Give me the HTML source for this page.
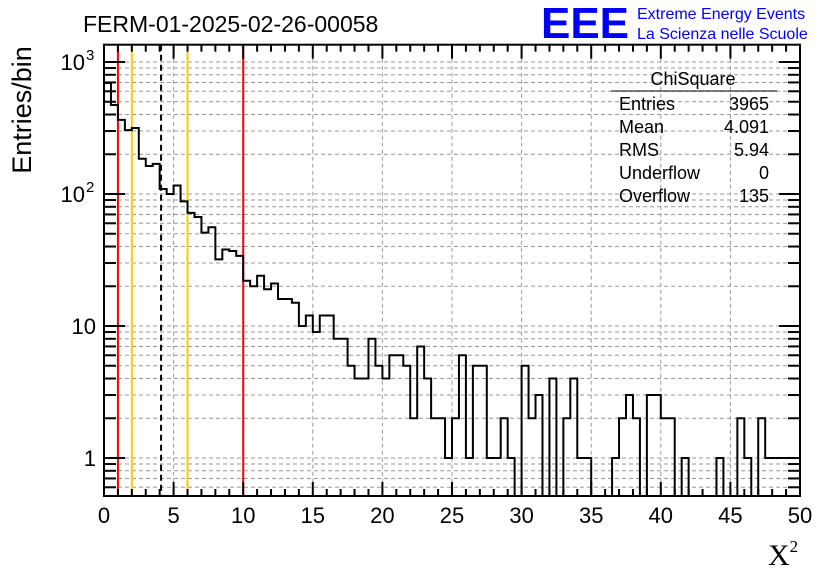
<!DOCTYPE html>
<html><head><meta charset="utf-8"><style>
body{margin:0;background:#fff;}
svg text{font-family:"Liberation Sans",sans-serif;}
</style></head><body>
<svg id="chart" width="836" height="572" xmlns="http://www.w3.org/2000/svg">
<rect width="836" height="572" fill="#fff"/>
<g id="grid"></g>
<g id="marks"></g>
<g id="axes"></g>
<text x="83" y="32" font-size="23">FERM-01-2025-02-26-00058</text>
<text x="541" y="38" font-size="44" font-weight="bold" fill="#0000ff" textLength="88" lengthAdjust="spacingAndGlyphs">EEE</text>
<text x="637" y="19" font-size="16" fill="#0000ff">Extreme Energy Events</text>
<text x="637" y="39" font-size="16" fill="#0000ff">La Scienza nelle Scuole</text>
<g font-size="18">
<text x="693" y="85" text-anchor="middle">ChiSquare</text>
<line x1="611" y1="91" x2="777" y2="91" stroke="#000" stroke-width="1"/>
<text x="619" y="110">Entries</text><text x="769" y="110" text-anchor="end">3965</text>
<text x="619" y="133">Mean</text><text x="769" y="133" text-anchor="end">4.091</text>
<text x="619" y="156">RMS</text><text x="769" y="156" text-anchor="end">5.94</text>
<text x="619" y="179">Underflow</text><text x="769" y="179" text-anchor="end">0</text>
<text x="619" y="202">Overflow</text><text x="769" y="202" text-anchor="end">135</text>
</g>
<text transform="translate(31,110) rotate(-90)" font-size="27" text-anchor="middle">Entries/bin</text>
<text x="768" y="565" font-size="30" style="font-family:'Liberation Serif',serif">X<tspan font-size="17" dy="-13">2</tspan></text>
</svg>
<script>
const binWidth = 0.5;
const counts = [693,472,364,305,316,185,163,169,109,100,116,88,72,67,51,56,32,38,37,34,22,20,24,19,21,16,16,15,10,12,9,12,12,8,8,5,4,4,8,5,4,6,6,5,2,7,4,2,2,1,2,6,1,5,5,1,1,2,1,0,5,2,3,0,4,0,2,4,1,1,0,0,0,1,2,3,2,0,3,3,2,2,0,1,0,0,0,0,1,0,0,2,1,0,2,1,1,1,1,1];
const xTicks = [0,5,10,15,20,25,30,35,40,45,50];
const yMajor = [1,10,100,1000];
const yMajorBase = ["1","10","10","10"];
const yMajorExp = ["","","2","3"];
const redLines = [1,10];
const yellowLines = [2,6];
const meanLine = [4.1];

const X0=104,X1=800,Y0=44.7,Y1=496;
const xs=v=>X0+(v/50)*(X1-X0);
const ys=v=>458-132*Math.log10(v);
const NS="http://www.w3.org/2000/svg";
function mk(parent,tag,attrs){const e=document.createElementNS(NS,tag);for(const k in attrs)e.setAttribute(k,attrs[k]);parent.appendChild(e);return e;}
const grid=document.getElementById('grid'),marks=document.getElementById('marks'),axes=document.getElementById('axes');
xTicks.forEach(t=>{if(t>0&&t<50){const l=mk(grid,'line',{x1:xs(t),x2:xs(t),y1:Y0,y2:Y1,stroke:'#999','stroke-dasharray':'4,3'});

}});
const yMinor=[];
[1,10,100,1000].forEach(d=>{for(let m=1;m<10;m++){const v=d*m;const y=ys(v);if(y>Y0&&y<Y1)yMinor.push(v);}});
[0.6,0.7,0.8,0.9].forEach(v=>{if(ys(v)<Y1)yMinor.push(v);});
yMinor.forEach(v=>{const l=mk(grid,'line',{x1:X0,x2:X1,y1:ys(v),y2:ys(v),stroke:'#999','stroke-dasharray':'4,3'});

});
redLines.forEach(v=>{const l=mk(marks,'line',{x1:xs(v),x2:xs(v),y1:Y0,y2:Y1,stroke:'#ff0000','stroke-width':2});

});
yellowLines.forEach(v=>{const l=mk(marks,'line',{x1:xs(v),x2:xs(v),y1:Y0,y2:Y1,stroke:'#ffcc00','stroke-width':2});

});
meanLine.forEach(v=>{const l=mk(marks,'line',{x1:xs(v),x2:xs(v),y1:Y0,y2:Y1,stroke:'#000','stroke-width':2,'stroke-dasharray':'6,4'});

});
let d='';
counts.forEach((c,i)=>{const xa=xs(i*binWidth),xb=xs((i+1)*binWidth);const y=c>0?Math.max(Y0,ys(c)):Y1;
d+=(i===0?'M'+xa+','+y:'L'+xa+','+y)+'L'+xb+','+y;});
const h=mk(marks,'path',{d:d,fill:'none',stroke:'#000','stroke-width':2});


const f=mk(axes,'rect',{x:X0,y:Y0,width:X1-X0,height:Y1-Y0,fill:'none',stroke:'#000','stroke-width':2});


for(let t=0;t<=50;t++){const big=t%5===0;const L=big?14:7;
mk(axes,'line',{x1:xs(t),x2:xs(t),y1:Y1,y2:Y1-L,stroke:'#000','stroke-width':2});
mk(axes,'line',{x1:xs(t),x2:xs(t),y1:Y0,y2:Y0+L,stroke:'#000','stroke-width':2});}
xTicks.forEach(t=>{const tx=mk(axes,'text',{x:xs(t),y:523,'font-size':22,'text-anchor':'middle'});tx.textContent=t;

});
yMinor.concat(yMajor).forEach(v=>{const big=yMajor.includes(v);const L=big?21:12;const y=ys(v);if(y<Y0||y>Y1)return;
mk(axes,'line',{x1:X0,x2:X0+L,y1:y,y2:y,stroke:'#000','stroke-width':2});
mk(axes,'line',{x1:X1,x2:X1-L,y1:y,y2:y,stroke:'#000','stroke-width':2});});
yMajor.forEach((v,i)=>{const hasExp=yMajorExp[i]!=='';
const tx=mk(axes,'text',{x:hasExp?85:96,y:ys(v)+8,'font-size':22,'text-anchor':'end'});tx.textContent=yMajorBase[i];


if(hasExp){const ex=mk(axes,'text',{x:86,y:ys(v)-2,'font-size':15,'text-anchor':'start'});ex.textContent=yMajorExp[i];

}});
</script>
</body></html>
